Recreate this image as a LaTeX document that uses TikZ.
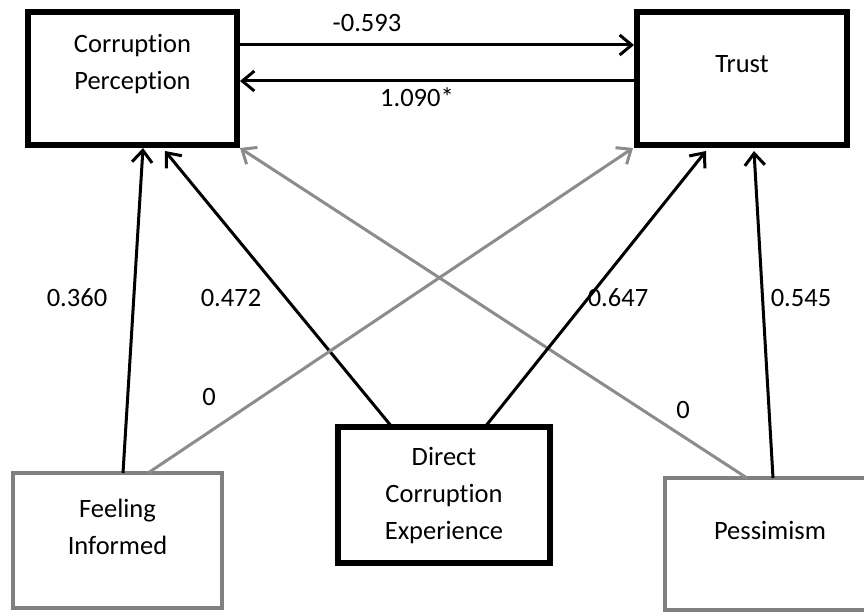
\documentclass[tikz,border=0pt]{standalone}
\usepackage{fontspec}
\setmainfont{Carlito}[Ligatures=NoCommon]
\usetikzlibrary{arrows.meta}
\definecolor{boxgray}{RGB}{128,128,128}
\definecolor{arrowgray}{RGB}{140,140,140}
\begin{document}
\begin{tikzpicture}[x=1pt,y=-1pt,
  boxb/.style={draw=black, line width=5.5pt, inner sep=0pt, outer sep=0pt},
  boxg/.style={draw=boxgray, line width=4pt, inner sep=0pt, outer sep=0pt},
  txt/.style={font=\fontsize{26.5}{37}\selectfont, align=center, inner sep=0pt, anchor=base},
  lab/.style={font=\fontsize{26.5}{37}\selectfont, inner sep=0pt, anchor=base},
  arr/.style={line width=3pt, draw=black, -{Straight Barb[length=12pt,width=20pt,line width=3pt]}},
  arrg/.style={arr, draw=arrowgray}]
\useasboundingbox (0,0) rectangle (864,612);
% boxes
\node[boxb, minimum width=209pt, minimum height=133pt] (cp) at (132.5,78.5) {};
\node[boxb, minimum width=210pt, minimum height=133pt] (trust) at (742,78.5) {};
\node[boxb, minimum width=212pt, minimum height=136pt] (dce) at (444,495) {};
\node[boxg, minimum width=209pt, minimum height=135pt] (fi) at (117.5,540.5) {};
\node[boxg, minimum width=210pt, minimum height=132pt] (pess) at (770,544) {};
% box texts
\node[txt] (cpt) at (132.5,90) {Corruption\\Perception};
\node[lab] (trt) at (742,73) {Trust};
\node[txt] (dcet) at (444,539) {Direct\\Corruption\\Experience};
\node[txt] (fit) at (117.5,554) {Feeling\\Informed};
\node[lab] (pest) at (770,539) {Pessimism};
% horizontal arrows
\draw[arr] ([yshift=33.5pt]cp.east) -- ([xshift=-3pt,yshift=33.5pt]trust.west);
\draw[arr] ([yshift=-2.5pt]trust.west) -- ([xshift=3pt,yshift=-2.5pt]cp.east);
% upward arrows
\draw[arr] ([xshift=5.5pt]fi.north) -- ([xshift=10.5pt,yshift=-3pt]cp.south);
\draw[arr] ([xshift=-52pt]dce.north) -- ([xshift=32.5pt,yshift=-6pt]cp.south);
\draw[arrg] ([xshift=-23pt]pess.north) -- ([xshift=3pt,yshift=-3pt]cp.south east);
\draw[arrg] ([xshift=30.5pt]fi.north) -- ([xshift=-4pt,yshift=-3pt]trust.south west);
\draw[arr] ([xshift=41pt]dce.north) -- ([xshift=-36pt,yshift=-6pt]trust.south);
\draw[arr] ([xshift=3pt]pess.north) -- ([xshift=12pt,yshift=-6pt]trust.south);
% labels
\node[lab] (l1) at (367,32) {-0.593};
\node[lab] (l2) at (417,107) {1.090*};
\node[lab] (l3) at (77,306) {0.360};
\node[lab] (l4) at (231,306) {0.472};
\node[lab] (l5) at (209,405) {0};
\node[lab] (l6) at (618,306) {0.647};
\node[lab] (l7) at (801,306) {0.545};
\node[lab] (l8) at (683,418) {0};
\end{tikzpicture}
\end{document}
